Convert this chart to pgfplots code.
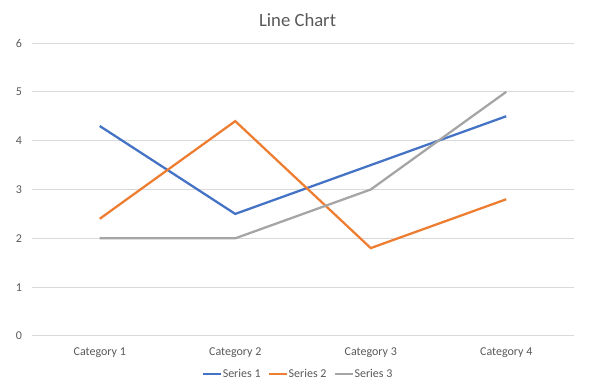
\documentclass[border=0pt]{standalone}
\usepackage{pgfplots}
\pgfplotsset{compat=1.18}
\usepackage{fontspec}
\setmainfont{Carlito}
\definecolor{sA}{HTML}{4472C4}
\definecolor{sB}{HTML}{ED7D31}
\definecolor{sC}{HTML}{A5A5A5}
\definecolor{gridc}{HTML}{D9D9D9}
\definecolor{txt}{HTML}{595959}
\begin{document}
\begin{tikzpicture}
\path[use as bounding box] (-24pt,-42pt) rectangle (426pt,252pt);
\begin{axis}[
  at={(0,0)}, anchor=south west,
  scale only axis, width=406.5pt, height=219.75pt,
  xmin=-0.5, xmax=3.5, ymin=0, ymax=6,
  xtick={0,1,2,3}, xticklabels={Category 1,Category 2,Category 3,Category 4},
  ytick={0,1,2,3,4,5,6},
  ymajorgrids, grid style={gridc, line width=0.75pt},
  axis line style={draw=none},
  major tick length=0pt,
  tick label style={font=\fontsize{9}{11}\selectfont, text=txt},
  /pgf/number format/assume math mode=true,
  xticklabel style={yshift=-5.5pt},
  yticklabel style={xshift=-4pt},
  title={\fontsize{14}{16}\selectfont Line Chart},
  title style={text=txt, at={(0.49,1.05)}, anchor=center},
  legend style={at={(0.49,-0.13)}, anchor=center, draw=none, fill=none,
    font=\fontsize{9}{11}\selectfont, text=txt, legend columns=-1,
    /tikz/every odd column/.append style={column sep=0pt},
    /tikz/every even column/.append style={column sep=5pt},
    nodes={inner sep=0.5pt},
    inner sep=0pt},
  legend image code/.code={\draw[#1, line width=1.5pt] (0pt,0pt) -- (13.5pt,0pt);},
  legend cell align=left,
  every axis plot/.append style={line width=1.7pt, mark=none},
  clip=false,
]
\addplot[sA] coordinates {(0,4.3) (1,2.5) (2,3.5) (3,4.5)};
\addlegendentry{Series 1}
\addplot[sB] coordinates {(0,2.4) (1,4.4) (2,1.8) (3,2.8)};
\addlegendentry{Series 2}
\addplot[sC] coordinates {(0,2) (1,2) (2,3) (3,5)};
\addlegendentry{Series 3}
\end{axis}
\end{tikzpicture}
\end{document}
